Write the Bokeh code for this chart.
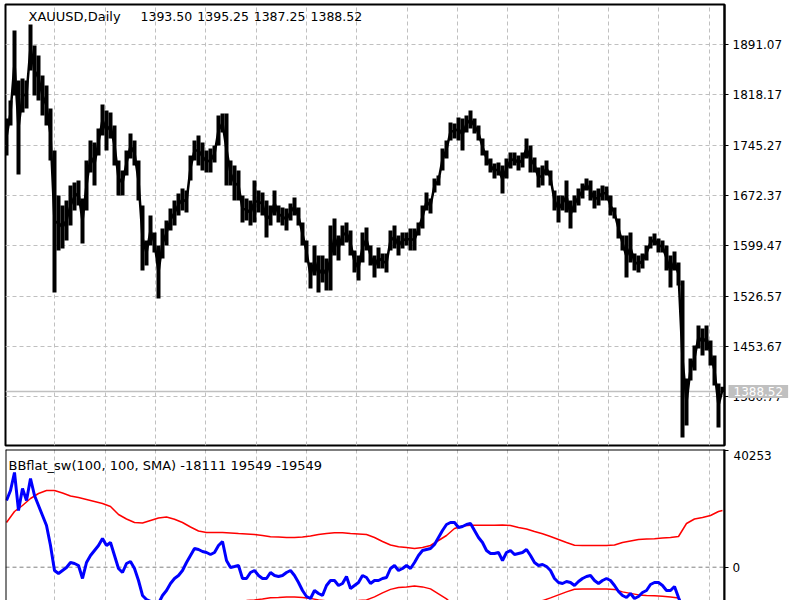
from bokeh.plotting import figure
from bokeh.models import Range1d, FixedTicker, Span, Label
from bokeh.layouts import column
from bokeh.embed import file_html
from bokeh.resources import INLINE

# ---------------- data ----------------
symbol = "XAUUSD,Daily"
last_open, last_high, last_low, last_close = "1393.50", "1395.25", "1387.25", "1388.52"
last_close_value = 1388.52

highs = [
    1783.9, 1810.0, 1911.3, 1838.9, 1841.8, 1838.9, 1920.0, 1889.6, 1875.1, 1846.2,
    1831.7, 1798.4, 1737.5, 1672.4, 1657.9, 1665.1, 1686.9, 1691.2, 1694.1, 1668.0,
    1723.1, 1752.0, 1749.1, 1769.4, 1804.2, 1795.5, 1792.6, 1773.8, 1723.1, 1708.6,
    1737.5, 1762.2, 1752.0, 1723.1, 1657.9, 1607.2, 1643.4, 1618.8, 1599.9, 1624.6,
    1636.2, 1653.5, 1665.1, 1675.3, 1682.5, 1679.6, 1730.3, 1752.0, 1759.3, 1749.1,
    1737.5, 1740.4, 1744.8, 1788.2, 1791.1, 1791.1, 1723.1, 1715.8, 1708.6, 1672.4,
    1668.0, 1665.1, 1694.1, 1679.6, 1676.7, 1665.1, 1657.9, 1679.6, 1657.9, 1655.0,
    1653.5, 1660.8, 1669.5, 1655.0, 1633.3, 1607.2, 1575.3, 1599.9, 1585.4, 1585.4,
    1581.1, 1628.9, 1639.1, 1614.4, 1628.9, 1633.3, 1621.7, 1592.7, 1585.4, 1618.8,
    1626.0, 1599.9, 1585.4, 1597.0, 1588.3, 1588.3, 1621.7, 1628.9, 1614.4, 1618.8,
    1618.8, 1624.6, 1624.6, 1633.3, 1657.9, 1676.7, 1668.0, 1697.0, 1701.3, 1740.4,
    1752.0, 1778.1, 1776.7, 1785.3, 1783.9, 1788.2, 1795.5, 1783.9, 1773.8, 1754.9,
    1737.5, 1725.9, 1718.7, 1720.2, 1715.8, 1725.9, 1734.6, 1734.6, 1730.3, 1734.6,
    1754.9, 1744.8, 1727.4, 1712.9, 1715.8, 1723.1, 1708.6, 1679.6, 1672.4, 1672.4,
    1694.1, 1665.1, 1672.4, 1682.5, 1689.7, 1697.0, 1694.1, 1679.6, 1682.5, 1686.9,
    1685.4, 1672.4, 1655.0, 1639.1, 1614.4, 1614.4, 1618.8, 1588.3, 1585.4, 1588.3,
    1599.9, 1613.0, 1617.3, 1610.1, 1607.2, 1599.9, 1585.4, 1591.2, 1575.3, 1549.2,
    1407.3, 1436.3, 1455.1, 1484.1, 1479.7, 1484.1, 1462.3, 1440.6, 1400.1, 1395.25,
]

lows = [
    1730.3, 1773.8, 1817.2, 1702.8, 1792.6, 1798.4, 1853.4, 1817.2, 1810.0, 1788.2,
    1773.8, 1723.1, 1531.9, 1592.7, 1595.6, 1607.2, 1628.9, 1650.6, 1657.9, 1602.8,
    1650.6, 1705.7, 1686.9, 1730.3, 1759.3, 1737.5, 1754.9, 1715.8, 1672.4, 1672.4,
    1701.3, 1725.9, 1715.8, 1665.1, 1563.7, 1571.0, 1599.9, 1589.8, 1523.2, 1581.1,
    1599.9, 1621.7, 1628.9, 1643.4, 1650.6, 1647.7, 1694.1, 1723.1, 1715.8, 1708.6,
    1705.7, 1705.7, 1720.2, 1744.8, 1763.6, 1686.9, 1686.9, 1665.1, 1665.1, 1633.3,
    1636.2, 1628.9, 1633.3, 1647.7, 1643.4, 1611.5, 1628.9, 1643.4, 1633.3, 1628.9,
    1621.7, 1636.2, 1643.4, 1628.9, 1599.9, 1575.3, 1537.7, 1556.5, 1531.9, 1546.3,
    1534.8, 1534.8, 1585.4, 1578.2, 1599.9, 1604.3, 1585.4, 1560.8, 1549.2, 1575.3,
    1592.7, 1571.0, 1553.6, 1566.6, 1566.6, 1560.8, 1592.7, 1595.6, 1585.4, 1595.6,
    1599.9, 1592.7, 1592.7, 1614.4, 1624.6, 1650.6, 1646.3, 1676.7, 1686.9, 1708.6,
    1726.0, 1752.0, 1754.9, 1752.0, 1737.5, 1763.6, 1769.4, 1762.2, 1752.0, 1730.3,
    1715.8, 1705.7, 1697.0, 1701.3, 1675.3, 1697.0, 1711.5, 1715.8, 1708.6, 1712.9,
    1725.9, 1705.7, 1705.7, 1684.0, 1686.9, 1701.3, 1686.9, 1650.6, 1633.3, 1650.6,
    1647.7, 1624.6, 1647.7, 1657.9, 1668.0, 1679.6, 1665.1, 1653.5, 1657.9, 1665.1,
    1665.1, 1643.4, 1639.1, 1610.1, 1592.7, 1553.6, 1575.3, 1563.7, 1560.8, 1566.6,
    1578.2, 1595.6, 1599.9, 1589.8, 1589.8, 1563.7, 1539.1, 1563.7, 1542.0, 1321.9,
    1339.2, 1404.4, 1418.9, 1450.8, 1440.6, 1447.9, 1426.1, 1397.2, 1336.3, 1387.25,
]

price_ticks = [1891.07, 1818.17, 1745.27, 1672.37, 1599.47, 1526.57, 1453.67, 1380.77]

ind_name = "BBflat_sw(100, 100, SMA)"
ind_last = ["-18111", "19549", "-19549"]
ind_max = 40253

bbflat = [
    23005, 26454, 32662, 19556, 27144, 23005, 30593, 24729, 21280, 17831,
    14382, 7484, -1138, -2173, -1138, -103, 1621, 1276, 586, -3897,
    1621, 4035, 5760, 7484, 9899, 7484, 8519, 4035, -448, -1828,
    1276, 1966, -448, -4587, -9761, -11140, -11800, -12800, -12500, -9761,
    -8036, -5622, -3897, -2863, -1138, 1621, 4035, 6450, 6105, 5415,
    5070, 4380, 5070, 7484, 8864, 2311, -103, 241, 586, -3897,
    -3897, -1828, -1138, -2863, -3897, -3897, -1828, -2863, -3208, -2863,
    -1828, -1138, -2863, -5277, -8036, -10106, -10795, -8036, -9071, -9761,
    -6312, -4587, -4587, -6312, -5622, -3208, -7346, -6312, -5277, -2863,
    -3552, -5622, -4587, -4587, -3897, -3552, -448, 586, -1138, -448,
    586, -448, 1621, 4035, 5760, 6105, 6450, 7829, 10244, 12658,
    14727, 15417, 15417, 13692, 14037, 14727, 15072, 12658, 10244, 8519,
    5760, 4725, 4725, 5070, 2311, 5070, 5760, 4380, 4725, 5070,
    6105, 4035, 1621, 586, 931, 241, -1138, -3897, -5277, -5622,
    -4932, -5277, -6312, -4932, -3897, -3208, -2863, -4587, -5622, -4587,
    -3897, -4587, -6312, -8381, -9761, -10450, -9071, -10795, -10106, -8726,
    -8036, -5967, -5277, -5277, -6312, -8036, -8036, -6657, -10450, -14000,
    -16500, -17500, -16000, -14500, -15000, -15000, -16000, -17500, -19000, -18111,
]

# bands read every second bar, plus the last bar
band_upper = [
    15417, 19211, 21280, 23695, 25419, 26454, 26454, 25592, 24557, 24040,
    23350, 22660, 21970, 20935, 18176, 16624, 15417, 15245, 16107, 16969,
    17314, 16555, 15417, 13865, 12485, 11968, 11968, 11968, 11796, 11623,
    11451, 11278, 10933, 10519, 10416, 10244, 10244, 10416, 10761, 11278,
    11623, 11865, 11865, 11623, 11451, 11278, 10244, 8864, 7657, 7036,
    6795, 6450, 6795, 7484, 9209, 10933, 13348, 14210, 14486, 14486,
    14486, 14486, 14520, 14382, 13692, 13175, 12313, 11520, 10588, 9554,
    8519, 7588, 7484, 7484, 7484, 7484, 7657, 8519, 9036, 9554,
    9726, 9830, 10037, 10244, 10588, 15072, 16624, 17142, 17831, 19211,
    19549,
]
band_lower = [
    -15417, -19211, -21280, -23695, -25419, -26454, -26454, -25592, -24557, -24040,
    -23350, -22660, -21970, -20935, -18176, -16624, -15417, -15245, -16107, -16969,
    -17314, -16555, -15417, -13865, -12485, -11968, -11968, -11968, -11796, -11623,
    -11451, -11278, -10933, -10519, -10416, -10244, -10244, -10416, -10761, -11278,
    -11623, -11865, -11865, -11623, -11451, -11278, -10244, -8864, -7657, -7036,
    -6795, -6450, -6795, -7484, -9209, -10933, -13348, -14210, -14486, -14486,
    -14486, -14486, -14520, -14382, -13692, -13175, -12313, -11520, -10588, -9554,
    -8519, -7588, -7484, -7484, -7484, -7484, -7657, -8519, -9036, -9554,
    -9726, -9830, -10037, -10244, -10588, -15072, -16624, -17142, -17831, -19211,
    -19549,
]

# ---------------- layout / styling ----------------
n = len(highs)
bars = list(range(n))
mids = [(h + l) / 2 for h, l in zip(highs, lows)]
band_bars = [2 * k for k in range(len(band_upper) - 1)] + [n - 1]
grid_x = [12.08 + 12.583 * k for k in range(14)]

FONT = "DejaVu Sans"
GRID = "#c0c0c0"

xr = Range1d(-0.25, 179.5)

# top panel: frame 4..445 ; a 30px bottom border holds the (unclipped) price box label
p1 = figure(width=800, height=475, x_range=xr, y_range=Range1d(1310.3, 1949.0),
            y_axis_location="right", x_axis_location=None,
            toolbar_location=None, output_backend="svg",
            min_border_left=5, min_border_right=76, min_border_top=4, min_border_bottom=30)

# bottom panel: frame 449..600 ; transparent 30px top border overlaps the top panel
p2 = figure(width=800, height=181, x_range=xr, y_range=Range1d(-11490, 40598),
            y_axis_location="right", x_axis_location=None,
            toolbar_location=None, output_backend="svg",
            min_border_left=5, min_border_right=76, min_border_top=30, min_border_bottom=0)
p2.margin = (-56, 0, 0, 0)

for p in (p1, p2):
    p.background_fill_color = "white"
    p.border_fill_color = "white"
    p.xgrid.ticker = FixedTicker(ticks=grid_x)
    p.xgrid.grid_line_color = GRID
    p.xgrid.grid_line_dash = "4 3"
    p.xgrid.grid_line_width = 1
    ax = p.yaxis[0]
    ax.axis_line_color = "black"
    ax.axis_line_width = 2
    ax.major_tick_out = 4
    ax.major_tick_in = 0
    ax.major_tick_line_color = "black"
    ax.major_tick_line_width = 1
    ax.minor_tick_line_color = None
    ax.major_label_text_font = FONT
    ax.major_label_text_font_size = "12px"
    ax.major_label_text_color = "black"
    ax.major_label_standoff = 4
p2.border_fill_alpha = 0.0

# top panel
p1.outline_line_color = "black"
p1.outline_line_width = 2
p1.yaxis.ticker = FixedTicker(ticks=price_ticks)
p1.yaxis.major_label_overrides = {t: f"{t:.2f}" for t in price_ticks}
p1.ygrid.ticker = FixedTicker(ticks=price_ticks)
p1.ygrid.grid_line_color = GRID
p1.ygrid.grid_line_dash = "4 3"
p1.ygrid.grid_line_width = 1

p1.add_layout(Span(location=last_close_value, dimension="width", line_color="#c0c0c0",
                   line_width=1.5, level="underlay"))
p1.vbar(x=bars, top=highs, bottom=lows, width=1.0, fill_color="black", line_color=None)
p1.line(bars, mids, line_color="black", line_width=2.5)

p1.add_layout(Label(x=5.5, y=1931.6, text=symbol, text_font=FONT, text_font_size="13px",
                    text_baseline="middle", text_color="black"))
for xpos, txt in zip([33.5, 47.7, 61.8, 76.0], [last_open, last_high, last_low, last_close]):
    p1.add_layout(Label(x=xpos, y=1931.6, text=txt, text_font=FONT, text_font_size="12.5px",
                        text_baseline="middle", text_color="black"))
p1.add_layout(Label(x=179.5, y=last_close_value, x_offset=4, text=last_close, text_font=FONT,
                    text_font_size="12px", text_baseline="middle", text_color="white",
                    background_fill_color="#c0c0c0", padding=(5, 2)), "below")

# bottom panel
p2.outline_line_color = None
p2.ygrid.visible = False
p2.yaxis.ticker = FixedTicker(ticks=[0, ind_max])
p2.yaxis.major_label_overrides = {0: "0", ind_max: ""}
p2.add_layout(Span(location=0, dimension="width", line_color="#808080", line_dash="4 3",
                   line_width=1, level="underlay"))
p2.line(band_bars, band_upper, line_color="#ff0000", line_width=1.5)
p2.line(band_bars, band_lower, line_color="#ff0000", line_width=1.5)
p2.line(bars, bbflat, line_color="#0000ff", line_width=3)

for loc, dim in [(-0.25, "height"), (179.5, "height"), (40598, "width")]:
    p2.add_layout(Span(location=loc, dimension=dim, line_color="black", line_width=2))

p2.add_layout(Label(x=0.5, y=35249, text=f"{ind_name} {' '.join(ind_last)}", text_font=FONT,
                    text_font_size="13px", text_baseline="middle", text_color="black"))
p2.add_layout(Label(x=179.5, x_offset=9, y=ind_max, text=str(ind_max), text_font=FONT,
                    text_font_size="12px", text_baseline="top", text_color="black"), "above")

layout = column(p1, p2, spacing=0)
open("out.html", "w").write(file_html(layout, INLINE))
